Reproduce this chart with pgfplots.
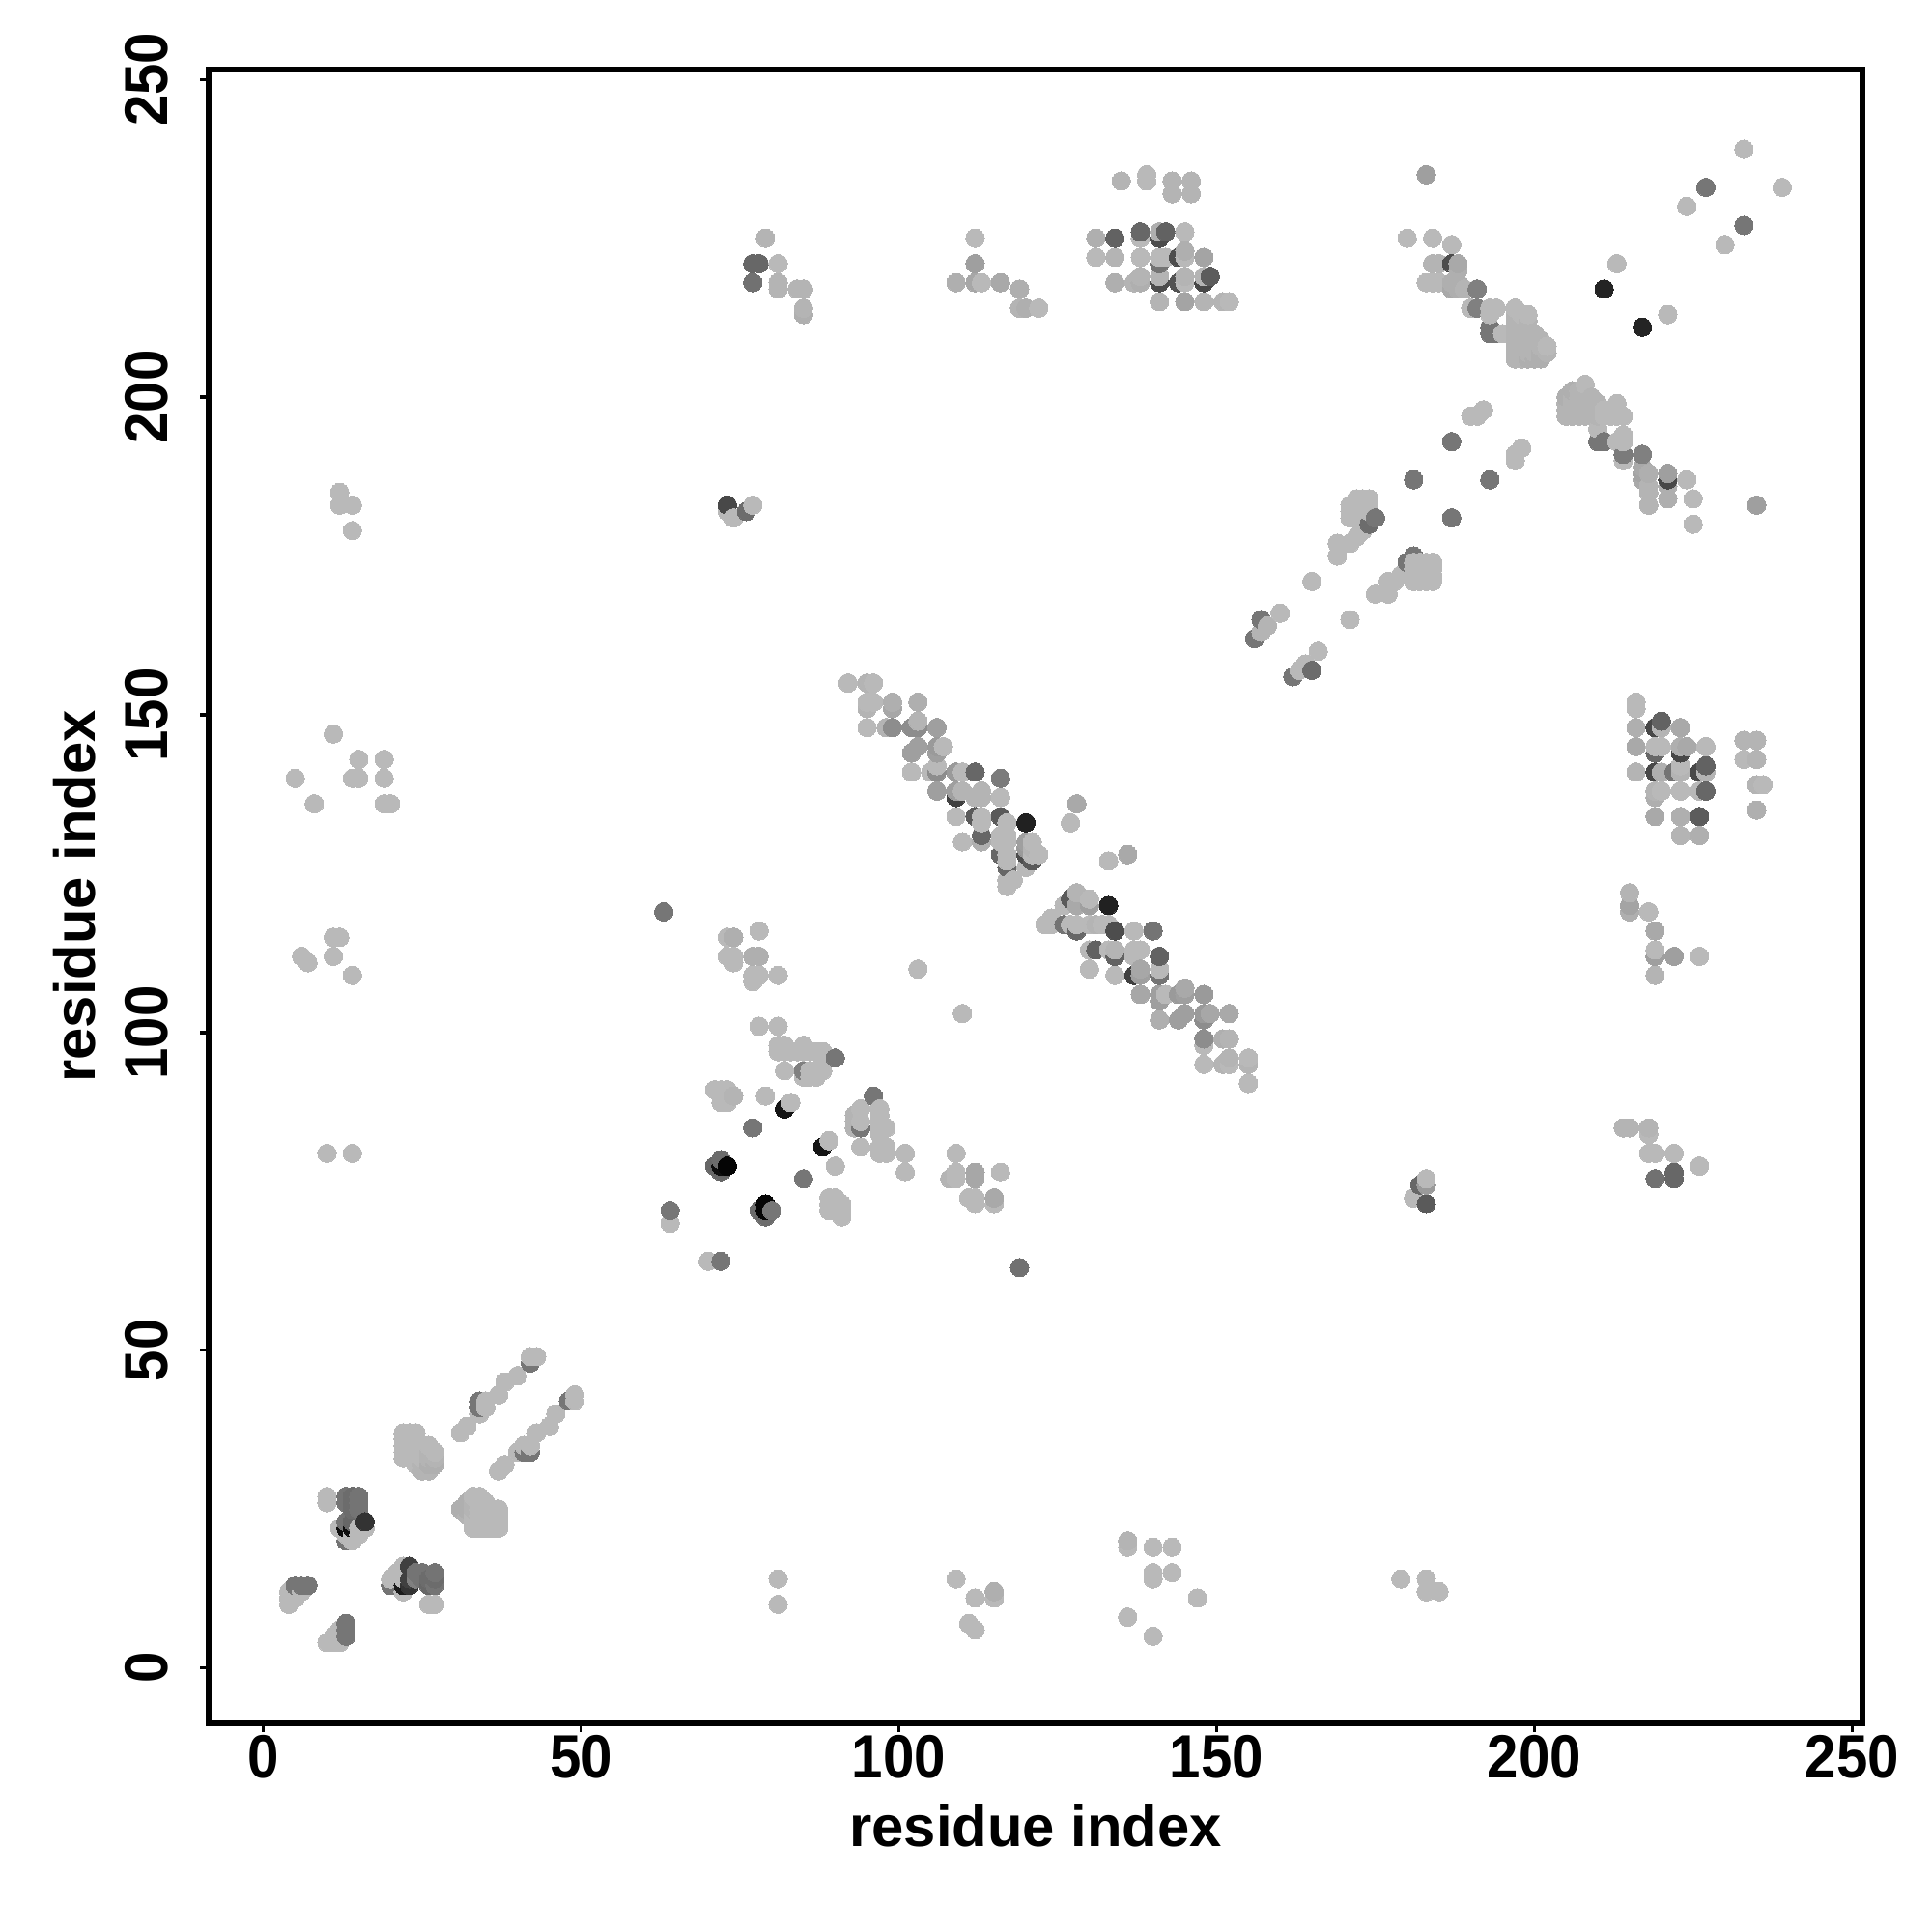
\documentclass[border=0pt]{standalone}
\usepackage{pgfplots}
\usepackage{pgfplotstable}
\usepackage{fontspec}
\setmainfont{Liberation Sans}
\newfontfamily\ticklab[FakeStretch=0.92]{Liberation Sans}
\pgfplotsset{compat=1.18}
\pgfplotstableread{
x y g
4 10 .72
4 11 .72
4 12 .72
5 11 .72
5 13 .46
6 12 .72
6 13 .46
7 13 .46
10 4 .72
11 4 .72
11 5 .72
12 4 .72
12 5 .72
12 6 .72
13 5 .46
13 6 .46
13 7 .46
10 26 .72
10 27 .72
12 22 .72
13 20 .45
13 21 .72
13 22 .05
13 23 .45
13 26 .45
13 27 .45
14 20 .72
14 21 .72
14 22 .05
14 23 .4
14 25 .42
14 26 .42
14 27 .42
15 21 .72
15 22 .72
15 25 .45
15 26 .45
15 27 .45
16 22 .72
16 23 .2
20 13 .45
20 14 .72
21 14 .72
21 15 .72
22 12 .72
22 13 .1
22 14 .72
22 15 .72
22 16 .72
23 13 .2
23 14 .25
23 16 .25
24 14 .5
24 15 .45
25 14 .45
25 15 .45
26 10 .72
26 13 .4
26 14 .42
27 10 .72
27 13 .45
27 14 .42
27 15 .45
22 33 .72
22 34 .72
22 35 .72
22 36 .72
22 37 .72
23 33 .72
23 34 .72
23 35 .72
23 36 .72
23 37 .72
24 32 .72
24 33 .72
24 34 .72
24 35 .72
24 36 .72
24 37 .72
25 31 .70
25 32 .70
25 33 .72
25 34 .72
25 35 .72
26 31 .70
26 32 .68
26 33 .70
26 34 .70
26 35 .72
27 32 .68
27 33 .70
27 34 .72
31 25 .68
32 24 .70
32 25 .68
32 26 .68
33 22 .72
33 23 .72
33 24 .72
33 25 .70
33 26 .70
33 27 .72
34 22 .72
34 23 .72
34 24 .72
34 25 .72
34 26 .72
34 27 .72
35 22 .72
35 23 .72
35 24 .72
35 25 .72
35 26 .72
36 22 .72
36 23 .72
36 24 .72
36 25 .72
37 22 .72
37 23 .72
37 24 .72
37 25 .72
31 37 .72
32 38 .72
34 40 .72
34 41 .46
34 42 .46
35 41 .72
35 42 .72
37 43 .72
38 45 .72
40 46 .72
42 48 .46
42 49 .72
43 49 .72
37 31 .72
38 32 .72
40 34 .72
41 34 .46
41 35 .72
42 34 .46
42 35 .72
43 37 .72
45 38 .72
46 40 .72
48 42 .46
49 42 .72
49 43 .72
81 14 .72
81 10 .72
109 14 .72
111 7 .72
112 6 .72
112 11 .72
115 11 .72
115 12 .68
136 8 .72
136 19 .72
136 20 .70
140 5 .72
140 14 .72
140 15 .72
140 19 .72
143 15 .72
143 19 .72
147 11 .72
179 14 .72
183 12 .72
183 14 .72
185 12 .72
12 183 .72
12 185 .72
14 179 .72
14 183 .72
5 140 .72
8 136 .72
11 147 .72
14 140 .72
15 140 .72
15 143 .72
19 136 .72
19 140 .72
19 143 .72
20 136 .72
6 112 .72
7 111 .72
11 112 .72
11 115 .72
12 115 .72
14 109 .72
10 81 .72
14 81 .72
63 119 .46
64 70 .72
64 72 .46
70 64 .72
72 64 .46
71 79 .40
71 91 .72
72 78 .40
72 79 .05
72 80 .42
72 89 .72
72 90 .72
72 91 .72
73 79 .02
73 89 .72
73 91 .72
74 90 .70
77 85 .46
77 108 .72
77 109 .72
77 112 .68
78 72 .42
78 109 .72
78 112 .68
78 116 .72
73 112 .72
73 115 .72
74 111 .72
74 112 .72
74 115 .68
79 71 .42
79 72 .02
79 73 .02
79 90 .72
80 72 .46
81 98 .72
81 97 .72
81 101 .72
81 109 .72
78 101 .72
82 88 .08
82 94 .72
82 97 .72
82 98 .72
83 89 .72
83 97 .72
84 97 .72
85 77 .46
85 93 .72
85 94 .50
85 97 .72
85 98 .72
86 93 .72
86 94 .72
86 97 .72
87 93 .72
87 94 .72
87 97 .72
88 82 .08
88 94 .72
88 95 .72
88 96 .72
88 97 .72
89 72 .72
89 73 .72
89 74 .72
89 83 .72
90 74 .72
90 79 .72
90 96 .46
91 71 .72
91 72 .72
91 73 .72
93 85 .70
93 86 .70
93 87 .70
94 82 .72
94 85 .46
94 86 .72
94 88 .72
96 90 .46
97 81 .72
97 82 .72
97 84 .72
97 85 .72
97 86 .72
97 87 .72
97 88 .72
98 81 .72
98 82 .72
98 85 .72
101 78 .72
101 81 .72
108 77 .70
109 77 .72
109 78 .72
109 81 .72
111 74 .72
112 73 .72
112 74 .72
112 77 .65
112 78 .65
115 73 .72
115 74 .66
116 78 .72
119 63 .44
103 110 .72
110 103 .72
92 155 .72
95 148 .72
95 151 .70
95 152 .72
95 155 .70
96 152 .72
96 155 .72
98 148 .70
99 148 .55
99 151 .65
99 152 .68
102 141 .72
102 144 .62
102 148 .55
103 145 .62
103 148 .55
103 149 .70
103 152 .68
105 141 .72
106 138 .62
106 141 .55
106 142 .72
106 144 .62
106 145 .60
106 148 .62
107 145 .72
109 134 .72
109 137 .25
109 138 .62
109 141 .60
110 130 .72
110 138 .70
110 141 .72
112 134 .35
112 137 .70
112 141 .40
113 130 .68
113 131 .40
113 133 .72
113 134 .72
113 137 .70
113 138 .70
116 128 .40
116 130 .72
116 131 .72
116 134 .35
116 137 .72
116 140 .48
117 123 .72
117 124 .72
117 126 .40
117 127 .72
117 128 .72
117 130 .72
117 131 .72
117 133 .72
118 124 .72
120 126 .72
120 128 .30
120 129 .60
120 130 .62
120 133 .13
121 127 .35
121 128 .72
121 129 .70
121 130 .72
122 128 .72
127 133 .72
128 136 .66
123 117 .72
124 117 .72
124 118 .72
126 117 .45
126 120 .72
127 117 .72
127 121 .35
128 116 .40
128 117 .72
128 120 .66
128 122 .70
130 110 .72
130 113 .72
130 117 .72
130 120 .62
130 121 .72
131 113 .38
131 117 .70
132 117 .72
133 113 .72
133 117 .72
133 120 .13
133 127 .72
134 109 .72
134 112 .38
134 113 .70
134 116 .30
136 128 .66
137 109 .25
137 112 .72
137 113 .72
137 116 .72
138 106 .65
138 109 .62
138 110 .65
138 113 .72
140 116 .45
141 102 .68
141 105 .62
141 106 .62
141 109 .45
141 110 .72
141 112 .38
142 106 .72
144 102 .62
144 106 .60
145 103 .62
145 106 .62
145 107 .66
148 95 .72
148 98 .72
148 99 .55
148 102 .55
148 103 .60
148 106 .60
149 103 .65
151 95 .70
151 99 .68
152 95 .72
152 96 .70
152 99 .70
152 103 .66
155 92 .72
155 95 .70
155 96 .72
73 182 .72
73 183 .28
74 181 .72
76 182 .42
77 183 .72
181 74 .72
182 76 .40
183 73 .35
183 76 .60
183 77 .72
214 85 .70
215 85 .70
218 84 .72
218 85 .70
218 81 .72
219 81 .72
219 77 .44
222 77 .40
222 78 .40
222 81 .72
226 79 .72
215 119 .68
215 120 .64
215 122 .70
218 119 .72
219 109 .70
219 112 .62
219 113 .72
219 116 .66
222 112 .62
226 112 .72
216 141 .70
216 145 .66
216 148 .68
216 151 .72
216 152 .72
219 134 .66
219 137 .68
219 138 .70
219 141 .28
219 144 .40
219 145 .72
219 148 .28
220 138 .72
220 141 .68
220 145 .72
220 148 .70
220 149 .38
222 141 .45
223 131 .70
223 134 .68
223 138 .72
223 141 .70
223 142 .72
223 144 .28
223 145 .68
223 148 .66
224 145 .66
226 131 .68
226 134 .36
226 138 .72
226 141 .28
227 138 .40
227 141 .70
227 142 .38
227 145 .72
233 143 .72
233 146 .70
235 135 .68
235 139 .70
235 143 .70
235 146 .70
236 139 .72
156 162 .46
157 163 .70
157 165 .46
158 164 .70
160 166 .72
162 156 .46
163 157 .72
164 158 .72
165 157 .42
165 171 .72
166 160 .72
169 175 .72
169 177 .72
171 165 .72
171 177 .72
171 181 .72
171 182 .72
171 183 .72
172 178 .72
172 181 .72
172 182 .72
172 183 .72
172 184 .72
173 179 .72
173 181 .72
173 182 .72
173 183 .72
173 184 .72
174 180 .42
174 182 .72
174 183 .72
174 184 .72
175 169 .72
175 181 .46
177 169 .72
177 170 .72
177 171 .72
178 171 .72
179 172 .72
180 174 .46
181 175 .46
181 171 .72
181 172 .72
181 173 .72
181 174 .72
182 171 .72
182 172 .72
182 173 .72
182 174 .72
183 171 .72
183 172 .72
183 173 .72
183 174 .72
184 171 .72
184 172 .72
184 173 .72
184 174 .72
181 187 .46
187 181 .46
187 193 .46
193 187 .46
190 197 .72
191 197 .72
192 198 .72
197 190 .72
197 191 .72
198 192 .72
205 197 .70
205 198 .70
205 199 .70
205 200 .68
206 197 .70
206 198 .70
206 199 .70
206 200 .70
206 201 .68
207 197 .70
207 198 .70
207 199 .70
207 200 .70
207 201 .70
208 197 .70
208 198 .70
208 199 .70
208 200 .70
208 201 .70
208 202 .72
209 197 .70
209 198 .70
209 199 .70
209 200 .70
210 193 .46
210 195 .72
210 197 .70
210 198 .70
210 199 .70
211 193 .46
211 197 .72
211 198 .72
212 197 .72
212 198 .72
213 193 .72
213 197 .72
213 198 .72
213 199 .72
214 190 .72
214 191 .48
214 193 .72
214 194 .72
214 197 .72
217 187 .66
217 188 .64
217 189 .66
217 191 .50
218 183 .70
218 185 .70
218 186 .70
218 188 .68
221 184 .68
221 186 .68
221 187 .28
221 188 .62
224 187 .72
225 180 .72
225 184 .72
235 183 .62
180 225 .72
183 218 .72
183 235 .62
184 218 .72
184 221 .70
184 225 .72
185 218 .72
185 221 .70
187 217 .66
187 218 .68
187 221 .30
187 224 .72
188 217 .68
188 218 .68
188 220 .68
188 221 .66
189 217 .70
190 214 .72
191 214 .50
191 217 .50
193 210 .46
193 211 .46
193 213 .72
193 214 .72
194 210 .46
194 214 .72
195 210 .72
197 206 .70
197 207 .70
197 208 .70
197 209 .70
197 210 .70
197 211 .70
197 212 .70
197 213 .70
197 214 .72
198 206 .70
198 207 .70
198 208 .70
198 209 .70
198 210 .70
198 211 .70
198 212 .70
198 213 .72
199 206 .68
199 207 .70
199 208 .70
199 209 .70
199 210 .70
199 211 .70
199 212 .70
199 213 .72
200 206 .68
200 207 .70
200 208 .70
200 209 .70
200 210 .70
201 206 .68
201 207 .68
201 208 .70
201 209 .70
202 207 .70
202 208 .72
211 217 .14
213 221 .72
217 211 .14
221 213 .72
224 230 .72
227 233 .46
230 224 .72
233 227 .46
233 239 .72
239 233 .72
77 218 .44
77 221 .40
78 221 .40
79 225 .70
81 217 .70
81 218 .70
81 221 .72
84 217 .70
85 213 .68
85 214 .70
85 217 .70
109 218 .68
112 218 .65
112 221 .62
112 225 .72
113 218 .72
116 218 .66
119 214 .70
119 217 .68
120 214 .68
122 214 .72
131 222 .72
131 225 .68
134 218 .68
134 222 .70
134 225 .38
135 234 .70
137 218 .70
138 218 .68
138 219 .70
138 222 .72
138 225 .72
138 226 .40
139 234 .72
139 235 .72
141 215 .70
141 218 .30
141 219 .70
141 221 .45
141 222 .72
141 225 .30
141 226 .68
142 222 .72
142 226 .38
143 232 .70
143 234 .70
144 218 .32
144 222 .30
145 215 .64
145 218 .72
145 219 .70
145 222 .72
145 223 .68
145 226 .72
146 232 .70
146 234 .70
148 215 .70
148 218 .28
148 219 .70
148 222 .64
149 219 .36
151 215 .70
152 215 .72
}\contacts
\begin{document}
\begin{tikzpicture}[x=1cm,y=1cm]
\path[use as bounding box] (-2.16,-2.16) rectangle (17.84,17.84);
\begin{axis}[
  at={(0,0)}, anchor=south west,
  scale only axis, width=17.12cm, height=17.12cm,
  xmin=-8.62, xmax=251.64, ymin=-8.71, ymax=251.55,
  axis line style={black,line width=1.65pt},
  tick align=outside, tick pos=left,
  major tick length=0.088cm,
  tick style={black,line width=0.95pt},
  xtick={0,50,100,150,200,250},
  ytick={0,50,100,150,200,250},
  /pgf/number format/assume math mode=true,
  tick label style={font=\fontsize{18}{20}\selectfont\ticklab\bfseries},
  xticklabel style={anchor=base,yshift=-0.48cm},
  yticklabel style={rotate=90,anchor=base,yshift=0.335cm},
  xlabel={residue index}, ylabel={residue index},
  label style={font=\fontsize{17}{19}\selectfont\bfseries},
  xlabel style={at={(axis description cs:0.5,0)},anchor=base,yshift=-1.27cm},
  ylabel style={at={(axis description cs:0,0.5)},anchor=base,yshift=1.17cm},
  colormap={bw}{gray(0cm)=(0); gray(1cm)=(1)},
  point meta min=0, point meta max=1,
  clip=true,
]
\addplot[scatter, only marks, mark=*, mark size=2.72pt,
  mark options={line width=0pt},
  scatter/use mapped color={draw=mapped color,fill=mapped color},
  scatter src=explicit]
  table[x=x,y=y,meta=g] {\contacts};
\end{axis}
\end{tikzpicture}
\end{document}
